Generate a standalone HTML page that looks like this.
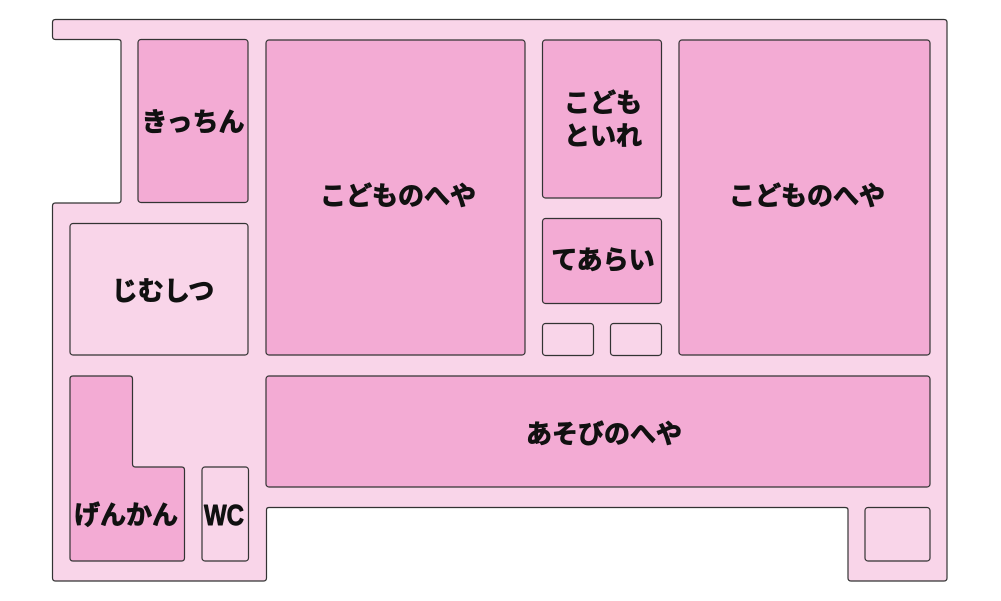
<!DOCTYPE html>
<html><head><meta charset="utf-8"><style>
html,body{margin:0;padding:0;background:#fff;}
svg{display:block;}
text{font-family:"Liberation Sans","Noto Sans CJK JP",sans-serif;font-weight:bold;fill:#111;stroke:#111;stroke-width:0.9;stroke-linejoin:round;}
</style></head><body>
<svg width="1001" height="601" viewBox="0 0 1001 601" xmlns="http://www.w3.org/2000/svg">
<g stroke="#333" stroke-width="1.2" stroke-linejoin="round">
<path d="M56,19.5 H944 Q947,19.5 947,22.5 V578 Q947,581 944,581 H851 Q848,581 848,578 V510 Q848,507.5 845,507.5 H269 Q266.5,507.5 266.5,510 V578 Q266.5,581 263.5,581 H55.5 Q52.5,581 52.5,578 V206 Q52.5,203 55.5,203 H118 Q121,203 121,200 V42 Q121,39.5 118,39.5 H55.5 Q52.5,39.5 52.5,36.5 V22.5 Q52.5,19.5 55.5,19.5 Z" fill="#f9d5e9"/>
<rect x="138" y="39.5" width="110" height="163" rx="3" fill="#f3abd4"/>
<rect x="266" y="40" width="259" height="315" rx="3" fill="#f3abd4"/>
<rect x="70" y="223.5" width="178" height="131.5" rx="3" fill="#f9d5e9"/>
<rect x="542.5" y="40" width="119" height="158" rx="3" fill="#f3abd4"/>
<rect x="542.5" y="218.5" width="119" height="85" rx="3" fill="#f3abd4"/>
<rect x="542.5" y="323.5" width="51" height="32" rx="3" fill="#f9d5e9"/>
<rect x="610.5" y="323.5" width="51" height="32" rx="3" fill="#f9d5e9"/>
<rect x="679" y="40" width="251" height="315" rx="3" fill="#f3abd4"/>
<rect x="266" y="376" width="664" height="111" rx="3" fill="#f3abd4"/>
<rect x="865" y="507.5" width="65" height="53.5" rx="3" fill="#f9d5e9"/>
<path d="M73,376 H129.5 Q132.5,376 132.5,379 V464 Q132.5,467 135.5,467 H181.5 Q184.5,467 184.5,470 V558 Q184.5,561 181.5,561 H73 Q70,561 70,558 V379 Q70,376 73,376 Z" fill="#f3abd4"/>
<rect x="202" y="467" width="46.5" height="94" rx="3" fill="#f9d5e9"/>
</g>
<g font-size="26" text-anchor="middle">
<text x="193" y="131">きっちん</text>
<text x="398" y="205">こどものへや</text>
<text x="807" y="205">こどものへや</text>
<text x="163" y="300">じむしつ</text>
<text x="603" y="112">こども</text>
<text x="603" y="145">といれ</text>
<text x="603" y="269">てあらい</text>
<text x="604" y="443">あそびのへや</text>
<text x="126" y="524">げんかん</text>
<text x="224" y="525" font-size="29" textLength="40" lengthAdjust="spacingAndGlyphs">WC</text>
</g>
</svg>
</body></html>
